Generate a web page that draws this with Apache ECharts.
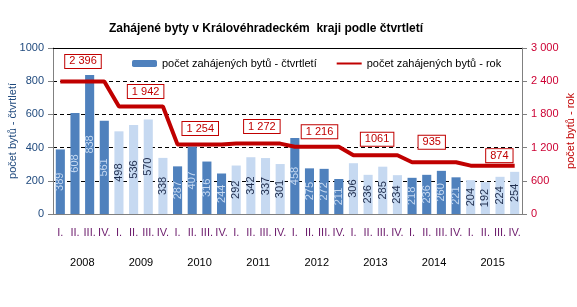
<!DOCTYPE html>
<html>
<head>
<meta charset="utf-8">
<script src="https://cdn.jsdelivr.net/npm/echarts@6/dist/echarts.min.js"></script>
<style>
  html, body { margin: 0; padding: 0; background: #fff; }
  #chart { width: 577px; height: 307px; }
</style>
</head>
<body>
<div id="chart"></div>
<script>
// Data
const years = ['2008', '2009', '2010', '2011', '2012', '2013', '2014', '2015'];
const quarters = ['I.', 'II.', 'III.', 'IV.'];
const quarterly = [
  389, 608, 838, 561,
  498, 536, 570, 338,
  287, 407, 316, 244,
  292, 342, 337, 301,
  458, 275, 272, 211,
  306, 236, 285, 234,
  218, 236, 260, 221,
  204, 192, 224, 254
];
const annual = [2396, 1942, 1254, 1272, 1216, 1061, 935, 874];
const annualText = ['2 396', '1 942', '1 254', '1 272', '1 216', '1061', '935', '874'];

// Styles
const FONT = 'Liberation Sans, Arial, sans-serif';
const DARK = '#4f81bd';
const LIGHT = '#c6d9f1';
const RED = '#c00000';
const labelOffsets = [[8, -20], [12, -15], [8, -16], [11, -17], [10, -15], [9, -16], [5, -20], [14, -10]];
const BAR_NAME = 'počet zahájených bytů - čtvrtletí';
const LINE_NAME = 'počet zahájených bytů - rok';

const categories = [];
years.forEach(() => quarters.forEach(q => categories.push(q)));

const barData = quarterly.map((v, i) => {
  const dark = Math.floor(i / 4) % 2 === 0;
  return {
    value: v,
    itemStyle: { color: dark ? DARK : LIGHT },
    label: { color: dark ? '#c6d9f1' : '#1f2d4d' }
  };
});

// roční hodnota opakovaná pro každé čtvrtletí
const lineData = [];
annual.forEach(v => quarters.forEach(() => lineData.push(v)));

// popisky roční řady – jen u II. čtvrtletí
const lineLabelData = [];
annual.forEach((v, y) => {
  quarters.forEach((q, k) => {
    if (k !== 1) {
      lineLabelData.push({ value: v, label: { show: false } });
      return;
    }
    lineLabelData.push({
      value: v,
      label: {
        show: true,
        position: 'inside',
        offset: labelOffsets[y],
        formatter: annualText[y],
        color: RED,
        fontFamily: FONT,
        fontSize: 11,
        backgroundColor: '#fff',
        borderColor: RED,
        borderWidth: 1,
        padding: [1, 4, 1, 4]
      }
    });
  });
});

const chart = echarts.init(document.getElementById('chart'));

chart.setOption({
  animation: false,
  textStyle: { fontFamily: FONT },
  title: {
    text: 'Zahájené byty v Královéhradeckém  kraji podle čtvrtletí',
    left: 104,
    top: 18,
    textStyle: { fontFamily: FONT, fontSize: 12, fontWeight: 'bold', color: '#000' }
  },
  legend: {
    left: 132,
    top: 58,
    padding: 0,
    itemWidth: 25,
    itemHeight: 7,
    itemGap: 20,
    textStyle: { fontFamily: FONT, fontSize: 11, color: '#000' },
    data: [
      { name: BAR_NAME },
      { name: LINE_NAME, icon: 'path://M0,0M0,2.5L25,2.5L25,4.5L0,4.5ZM25,7' }
    ]
  },
  grid: { left: 53, right: 55, top: 48, bottom: 93, outerBoundsMode: 'none' },
  xAxis: [
    {
      type: 'category',
      data: categories,
      axisLine: { lineStyle: { color: '#808080' } },
      axisTick: { interval: 0, length: 31, lineStyle: { color: '#808080' } },
      axisLabel: { interval: 0, margin: 13, fontSize: 11, color: '#6b1a6b', fontFamily: FONT }
    },
    {
      type: 'category',
      data: years,
      position: 'bottom',
      axisLine: { show: false },
      axisTick: { interval: 0, length: 63, lineStyle: { color: '#808080' } },
      axisLabel: { interval: 0, margin: 43, fontSize: 11, color: '#000', fontFamily: FONT }
    },
    {
      type: 'category',
      data: years,
      position: 'top',
      axisLine: { lineStyle: { color: '#000', width: 1 } },
      axisTick: { show: false },
      axisLabel: { show: false }
    }
  ],
  yAxis: [
    {
      type: 'value',
      min: 0,
      max: 1000,
      interval: 200,
      name: 'počet bytů - čtvrtletí',
      nameLocation: 'middle',
      nameRotate: 90,
      nameGap: 35,
      nameMoveOverlap: false,
      nameTextStyle: { fontFamily: FONT, fontSize: 11, color: '#1f497d' },
      axisLine: { show: true, lineStyle: { color: '#808080' } },
      axisTick: { show: true, length: 5, lineStyle: { color: '#808080' } },
      axisLabel: { fontSize: 11, color: '#1f497d', margin: 9, fontFamily: FONT, formatter: v => String(v) },
      splitLine: { lineStyle: { color: '#000', type: [4, 3] } }
    },
    {
      type: 'value',
      min: 0,
      max: 3000,
      interval: 600,
      position: 'right',
      name: 'počet bytů - rok',
      nameLocation: 'middle',
      nameRotate: 90,
      nameGap: 43,
      nameMoveOverlap: false,
      nameTextStyle: { fontFamily: FONT, fontSize: 11, color: RED },
      axisLine: { show: true, lineStyle: { color: '#808080' } },
      axisTick: { show: true, length: 5, lineStyle: { color: '#808080' } },
      axisLabel: {
        fontSize: 11,
        color: '#cc0033',
        margin: 9,
        fontFamily: FONT,
        formatter: v => String(v).replace(/\B(?=(\d{3})+(?!\d))/g, ' ')
      },
      splitLine: { show: false }
    }
  ],
  series: [
    {
      name: BAR_NAME,
      type: 'bar',
      xAxisIndex: 0,
      yAxisIndex: 0,
      data: barData,
      barCategoryGap: '38%',
      itemStyle: { color: DARK },
      label: {
        show: true,
        position: 'inside',
        rotate: 90,
        fontSize: 11,
        fontFamily: FONT
      }
    },
    {
      name: LINE_NAME,
      type: 'line',
      xAxisIndex: 0,
      yAxisIndex: 1,
      data: lineData,
      symbol: 'none',
      z: 5,
      lineStyle: { color: RED, width: 4 },
      itemStyle: { color: RED }
    },
    {
      name: 'popisky',
      type: 'line',
      xAxisIndex: 0,
      yAxisIndex: 1,
      data: lineLabelData,
      symbol: 'circle',
      symbolSize: 1,
      z: 6,
      lineStyle: { opacity: 0 },
      itemStyle: { color: 'transparent' },
      silent: true
    }
  ]
});
</script>
</body>
</html>
